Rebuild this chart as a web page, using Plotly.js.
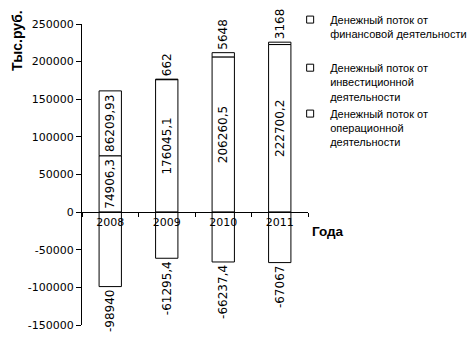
<!DOCTYPE html>
<html>
<head>
<meta charset="utf-8">
<script src="https://cdn.plot.ly/plotly-3.0.1.min.js"></script>
<style>html,body{margin:0;padding:0;background:#fff;}#chart{width:474px;height:351px;}</style>
</head>
<body>
<div id="chart"></div>
<script>
const years = ['2008', '2009', '2010', '2011'];
const operational = [74906.3, 176045.1, 206260.5, 222700.2];
const investment = [-98940, -61295.4, -66237.4, -67067];
const financial = [86209.93, 662, 5648, 3168];
const financialTextPos = ['inside', 'outside', 'outside', 'outside'];
const seriesNames = {
  financial: 'Денежный поток от<br>финансовой деятельности',
  investment: 'Денежный поток от<br>инвестиционной<br>деятельности',
  operational: 'Денежный поток от<br>операционной<br>деятельности'
};
const yTickVals = [-150000, -100000, -50000, 0, 50000, 100000, 150000, 200000, 250000];
const yTickText = yTickVals.map(v => String(v));

const fmt = v => String(v).replace('.', ',');
const labelFont = {family: 'DejaVu Sans', size: 12, color: '#000'};
const barStyle = {color: '#ffffff', line: {color: '#000000', width: 1}};

function barTrace(vals, textpos) {
  return {
    type: 'bar', x: years, y: vals,
    text: vals.map(fmt), texttemplate: '%{text}',
    textposition: textpos, textangle: -90,
    insidetextanchor: 'middle',
    textfont: labelFont, insidetextfont: labelFont, outsidetextfont: labelFont,
    constraintext: 'none', cliponaxis: false,
    marker: barStyle, showlegend: false, hoverinfo: 'skip'
  };
}
function legendTrace(name, group) {
  return {
    type: 'scatter', mode: 'markers', x: [null], y: [null], name: name,
    legendgroup: group,
    marker: {symbol: 'square', size: 7, color: '#ffffff', line: {color: '#000000', width: 1}},
    hoverinfo: 'skip'
  };
}

const data = [
  barTrace(operational, 'inside'),
  barTrace(investment, 'outside'),
  barTrace(financial, financialTextPos),
  legendTrace(seriesNames.financial, 'g1'),
  legendTrace(seriesNames.investment, 'g2'),
  legendTrace(seriesNames.operational, 'g2')
];

const layout = {
  width: 474, height: 351,
  margin: {l: 82, r: 166, t: 24, b: 26, pad: 0, autoexpand: false},
  paper_bgcolor: '#ffffff', plot_bgcolor: '#ffffff',
  barmode: 'relative', bargap: 0.605,
  font: {family: 'DejaVu Sans', size: 11, color: '#000'},
  xaxis: {
    type: 'category', anchor: 'free', position: 0.375,
    showline: true, linecolor: '#000', linewidth: 1,
    ticks: 'outside', tickson: 'boundaries', ticklen: 4, tickcolor: '#000',
    showgrid: false, zeroline: false, automargin: false,
    tickfont: {family: 'DejaVu Sans', size: 11, color: '#000'}
  },
  yaxis: {
    range: [-150000, 250000],
    tickvals: yTickVals, ticktext: yTickText,
    showline: true, linecolor: '#000', linewidth: 1,
    ticks: 'outside', ticklen: 5, tickcolor: '#000',
    showgrid: false, zeroline: false, automargin: false,
    tickfont: {family: 'DejaVu Sans', size: 11, color: '#000'}
  },
  showlegend: true,
  legend: {
    x: 0.921, xanchor: 'left', y: 1.06, yanchor: 'top',
    valign: 'top', traceorder: 'grouped', tracegroupgap: 16.5,
    bgcolor: 'rgba(0,0,0,0)', borderwidth: 0,
    font: {family: 'Liberation Sans', size: 11, color: '#000'}
  },
  annotations: [
    {text: '<b>Тыс.руб.</b>', xref: 'paper', yref: 'paper', x: -0.2876, y: 0.9435,
     textangle: -90, showarrow: false, xanchor: 'center', yanchor: 'middle',
     font: {family: 'Liberation Sans', size: 14, color: '#000'}},
    {text: '<b>Года</b>', xref: 'paper', yref: 'paper', x: 1.0885, y: 0.309,
     showarrow: false, xanchor: 'center', yanchor: 'middle',
     font: {family: 'Liberation Sans', size: 13.5, color: '#000'}}
  ]
};

Plotly.newPlot('chart', data, layout, {displayModeBar: false, staticPlot: true});
</script>
</body>
</html>
